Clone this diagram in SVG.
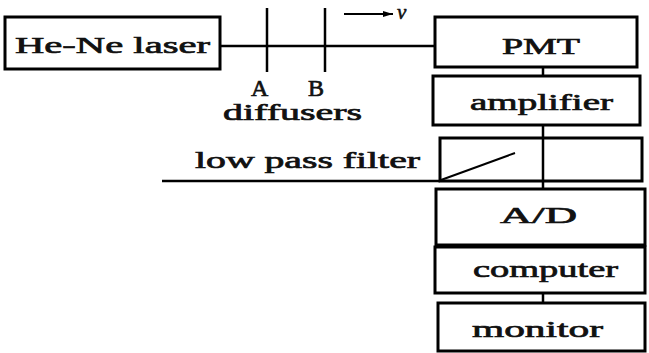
<svg xmlns="http://www.w3.org/2000/svg" width="649" height="353" viewBox="0 0 649 353">
<defs>
<style>
.box{fill:#fff;stroke:#000;stroke-width:3}
.ln{fill:none;stroke:#000;stroke-width:2.5}
.t{font-family:"Liberation Serif","Times New Roman",serif;font-size:24px;font-weight:normal;fill:#111;stroke:#111;stroke-width:0.7}
</style>
<marker id="ah" viewBox="0 0 10 6" refX="10" refY="3" markerWidth="5" markerHeight="3" orient="auto" markerUnits="strokeWidth">
<path d="M0,0 L10,3 L0,6 z" fill="#000"/>
</marker>
</defs>
<rect width="649" height="353" fill="#fff"/>
<g id="connectors">
<line class="ln" x1="220" y1="46" x2="435" y2="46"/>
<line class="ln" x1="543" y1="67" x2="543" y2="76"/>
<line class="ln" x1="543" y1="125" x2="543" y2="189"/>
<line class="ln" x1="162" y1="181" x2="440" y2="181"/>
<line class="ln" x1="543" y1="245" x2="543" y2="247"/>
<line class="ln" x1="543" y1="293" x2="543" y2="303"/>
</g>
<g id="laser">
<rect class="box" x="5" y="17" width="215" height="52"/>
<text class="t" x="15" y="53" font-size="26" textLength="195" lengthAdjust="spacingAndGlyphs">He-Ne laser</text>
</g>
<g id="diffusers">
<line class="ln" x1="267" y1="8" x2="267" y2="72" stroke-width="3"/>
<line class="ln" x1="325" y1="8" x2="325" y2="72" stroke-width="3"/>
<text class="t" x="251" y="96" font-size="17">A</text>
<text class="t" x="308" y="96" font-size="17">B</text>
<text class="t" x="223" y="120" font-size="21" textLength="139" lengthAdjust="spacingAndGlyphs">diffusers</text>
<line x1="344" y1="14" x2="393" y2="14" stroke="#000" stroke-width="2" marker-end="url(#ah)"/>
<text x="397" y="19" font-family="Liberation Serif, serif" font-style="italic" font-size="21" fill="#111" stroke="#111" stroke-width="0.6">v</text>
</g>
<g id="pmt">
<rect class="box" x="435" y="17" width="202" height="50"/>
<text class="t" x="502" y="54" textLength="78" lengthAdjust="spacingAndGlyphs">PMT</text>
</g>
<g id="amplifier">
<rect class="box" x="433" y="76" width="207" height="49"/>
<text class="t" x="470" y="110" textLength="143" lengthAdjust="spacingAndGlyphs">amplifier</text>
</g>
<g id="filter">
<rect class="box" x="440" y="138" width="202" height="43"/>
<line class="ln" x1="543" y1="138" x2="543" y2="181"/>
<line x1="441" y1="180" x2="515" y2="153" stroke="#000" stroke-width="2"/>
<text class="t" x="195" y="168" textLength="225" lengthAdjust="spacingAndGlyphs">low pass filter</text>
</g>
<g id="ad">
<rect class="box" x="436" y="189" width="209" height="56"/>
<text class="t" x="500" y="223" textLength="77" lengthAdjust="spacingAndGlyphs">A/D</text>
</g>
<g id="computer">
<rect class="box" x="435" y="247" width="210" height="46"/>
<text class="t" x="473" y="277" textLength="145" lengthAdjust="spacingAndGlyphs">computer</text>
</g>
<g id="monitor">
<rect class="box" x="438" y="303" width="207" height="48"/>
<text class="t" x="472" y="337" textLength="131" lengthAdjust="spacingAndGlyphs">monitor</text>
</g>
</svg>
